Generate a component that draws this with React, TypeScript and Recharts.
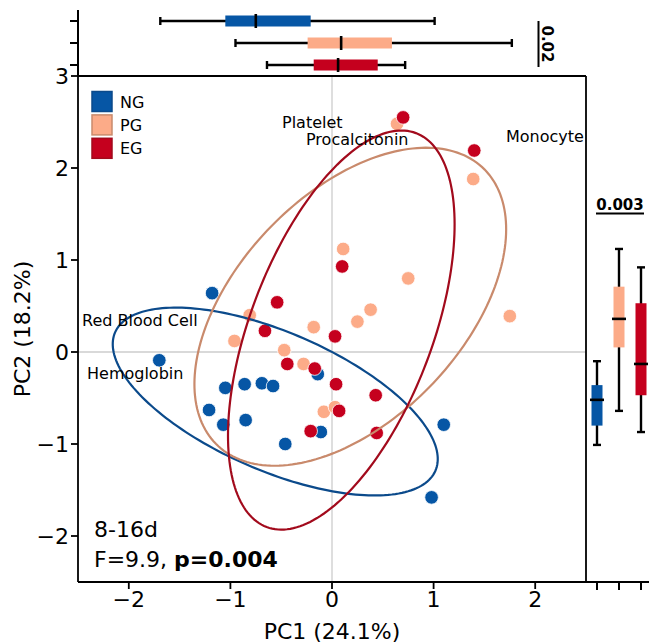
import React from "react";
import { ScatterChart, Scatter, XAxis, YAxis, ReferenceLine, BarChart, Bar } from "recharts";

const groups = ["NG", "PG", "EG"];

// PCA scores
const ngPC1 = [-1.18, -1.7, -1.05, -0.86, -0.69, -0.58, -1.21, -1.07, -0.85, -0.46, -0.14, -0.11, 1.1, 0.98];
const ngPC2 = [0.64, -0.09, -0.39, -0.35, -0.34, -0.37, -0.63, -0.79, -0.74, -1.0, -0.24, -0.87, -0.79, -1.58];
const pgPC1 = [-0.81, -0.96, -0.47, -0.18, -0.28, 0.25, 0.38, 0.75, -0.08, 0.03, 0.11, 0.64, 1.39, 1.75];
const pgPC2 = [0.4, 0.12, 0.02, 0.27, -0.13, 0.33, 0.46, 0.8, -0.65, -0.6, 1.12, 2.48, 1.88, 0.39];
const egPC1 = [0.1, -0.54, -0.66, 0.03, -0.44, -0.17, 0.04, 0.43, 0.07, -0.21, 0.44, 0.7, 1.4];
const egPC2 = [0.93, 0.54, 0.23, 0.17, -0.13, -0.18, -0.35, -0.47, -0.64, -0.86, -0.88, 2.55, 2.19];

// marginal boxes: whisker low, Q1, median, Q3, whisker high
const pc1Box = [
  [-1.69, -1.05, -0.75, -0.21, 1.01],
  [-0.95, -0.24, 0.09, 0.59, 1.77],
  [-0.64, -0.18, 0.06, 0.45, 0.72],
];
const pc2Box = [
  [-1.01, -0.8, -0.52, -0.36, -0.1],
  [-0.64, 0.05, 0.36, 0.71, 1.12],
  [-0.87, -0.47, -0.13, 0.53, 0.92],
];

const xTicks = [-2, -1, 0, 1, 2];
const yTicks = [-2, -1, 0, 1, 2, 3];

const pointColor: Record<string, string> = { NG: "#0656a5", PG: "#fcab88", EG: "#c5001e" };
const ellipseColor: Record<string, string> = { NG: "#0b4a8b", PG: "#c98a6c", EG: "#a20a1c" };

const FONT = "DejaVu Sans";

const toPoints = (xs: number[], ys: number[]) => xs.map((x, i) => ({ x, y: ys[i] }));

// 2-sd covariance ellipse of a group
function ellipse(xs: number[], ys: number[], nStd = 2, steps = 200) {
  const n = xs.length;
  const mx = xs.reduce((a, b) => a + b, 0) / n;
  const my = ys.reduce((a, b) => a + b, 0) / n;
  let cxx = 0, cyy = 0, cxy = 0;
  for (let i = 0; i < n; i++) {
    cxx += (xs[i] - mx) ** 2;
    cyy += (ys[i] - my) ** 2;
    cxy += (xs[i] - mx) * (ys[i] - my);
  }
  cxx /= n - 1; cyy /= n - 1; cxy /= n - 1;
  const r = cxy / Math.sqrt(cxx * cyy);
  const rx = Math.sqrt(1 + r), ry = Math.sqrt(1 - r);
  const sx = Math.sqrt(cxx) * nStd, sy = Math.sqrt(cyy) * nStd;
  const c = Math.SQRT1_2;
  const pts = [];
  for (let i = 0; i <= steps; i++) {
    const t = (2 * Math.PI * i) / steps;
    const u = rx * Math.cos(t), v = ry * Math.sin(t);
    pts.push({ x: mx + sx * c * (u - v), y: my + sy * c * (u + v) });
  }
  return pts;
}

const series = [
  { g: "NG", pts: toPoints(ngPC1, ngPC2), ell: ellipse(ngPC1, ngPC2) },
  { g: "PG", pts: toPoints(pgPC1, pgPC2), ell: ellipse(pgPC1, pgPC2) },
  { g: "EG", pts: toPoints(egPC1, egPC2), ell: ellipse(egPC1, egPC2) },
];

const pc1Rows = groups.map((g, i) => ({ group: g, range: [pc1Box[i][0], pc1Box[i][4]], stats: pc1Box[i] }));
const pc2Rows = groups.map((g, i) => ({ group: g, range: [pc2Box[i][0], pc2Box[i][4]], stats: pc2Box[i] }));

const fmt = (v: number) => (v < 0 ? "\u2212" + Math.abs(v) : String(v));

const dot = (color: string) => (p: any) => (
  <circle cx={p.cx} cy={p.cy} r={6.8} fill={color} stroke="#fff" strokeWidth={0.8} />
);

function HBox(p: any) {
  const s: number[] = p.payload.stats;
  const left = Math.min(p.x, p.x + p.width);
  const right = Math.max(p.x, p.x + p.width);
  const px = (v: number) => left + ((right - left) * (v - s[0])) / (s[4] - s[0]);
  const cy = p.y + p.height / 2;
  const col = pointColor[p.payload.group];
  return (
    <g>
      <line x1={px(s[0])} x2={px(s[4])} y1={cy} y2={cy} stroke="#000" strokeWidth={2.4} />
      <line x1={px(s[0])} x2={px(s[0])} y1={cy - 4} y2={cy + 4} stroke="#000" strokeWidth={2.4} />
      <line x1={px(s[4])} x2={px(s[4])} y1={cy - 4} y2={cy + 4} stroke="#000" strokeWidth={2.4} />
      <rect x={px(s[1])} y={cy - 5.5} width={px(s[3]) - px(s[1])} height={11} fill={col} />
      <line x1={px(s[2])} x2={px(s[2])} y1={cy - 7} y2={cy + 7} stroke="#000" strokeWidth={2.6} />
    </g>
  );
}

function VBox(p: any) {
  const s: number[] = p.payload.stats;
  const top = Math.min(p.y, p.y + p.height);
  const bottom = Math.max(p.y, p.y + p.height);
  const py = (v: number) => bottom - ((bottom - top) * (v - s[0])) / (s[4] - s[0]);
  const cx = p.x + p.width / 2;
  const col = pointColor[p.payload.group];
  return (
    <g>
      <line x1={cx} x2={cx} y1={py(s[0])} y2={py(s[4])} stroke="#000" strokeWidth={2.4} />
      <line x1={cx - 4} x2={cx + 4} y1={py(s[0])} y2={py(s[0])} stroke="#000" strokeWidth={2.4} />
      <line x1={cx - 4} x2={cx + 4} y1={py(s[4])} y2={py(s[4])} stroke="#000" strokeWidth={2.4} />
      <rect x={cx - 5.5} y={py(s[3])} width={11} height={py(s[1]) - py(s[3])} fill={col} />
      <line x1={cx - 7} x2={cx + 7} y1={py(s[2])} y2={py(s[2])} stroke="#000" strokeWidth={2.6} />
    </g>
  );
}

const axisStroke = { stroke: "#000", strokeWidth: 1.8 };
const tickStyle = { fill: "#000", fontSize: 22, fontFamily: FONT };

export default function App() {
  return (
    <div
      style={{
        position: "absolute",
        left: 0,
        top: 0,
        width: 649,
        height: 644,
        overflow: "hidden",
        background: "#fff",
        fontFamily: FONT,
      }}
    >
      <div style={{ position: "absolute", left: 0, top: 0 }}>
        <ScatterChart width={649} height={644} margin={{ top: 76, right: 63, bottom: 0, left: 0 }}>
          <XAxis
            type="number"
            dataKey="x"
            domain={[-2.5, 2.5]}
            ticks={xTicks}
            tickFormatter={fmt}
            allowDataOverflow
            height={62}
            tickSize={7}
            tickMargin={2}
            tick={tickStyle}
            axisLine={axisStroke}
            tickLine={axisStroke}
          />
          <YAxis
            type="number"
            dataKey="y"
            domain={[-2.5, 3]}
            ticks={yTicks}
            tickFormatter={fmt}
            allowDataOverflow
            width={78}
            tickSize={7}
            tickMargin={2}
            tick={tickStyle}
            axisLine={axisStroke}
            tickLine={axisStroke}
          />
          <ReferenceLine x={0} stroke="#cccccc" strokeWidth={1.3} />
          <ReferenceLine y={0} stroke="#cccccc" strokeWidth={1.3} />
          <ReferenceLine y={3} stroke="#000" strokeWidth={1.8} />
          <ReferenceLine x={2.5} stroke="#000" strokeWidth={1.8} />
          {series.map((s) => (
            <Scatter key={s.g} data={s.pts} shape={dot(pointColor[s.g])} isAnimationActive={false} />
          ))}
          {series.map((s) => (
            <Scatter
              key={s.g + "-ell"}
              data={s.ell}
              line={{ stroke: ellipseColor[s.g], strokeWidth: 2.2 }}
              shape={() => <g />}
              isAnimationActive={false}
            />
          ))}
        </ScatterChart>
      </div>

      <div style={{ position: "absolute", left: 0, top: 0 }}>
        <BarChart
          layout="vertical"
          width={649}
          height={76}
          data={pc1Rows}
          margin={{ top: 10, right: 63, left: 0, bottom: 0 }}
          barCategoryGap={0}
        >
          <XAxis type="number" domain={[-2.5, 2.5]} hide allowDataOverflow />
          <YAxis
            type="category"
            dataKey="group"
            width={78}
            interval={0}
            tickSize={8}
            tickFormatter={() => ""}
            axisLine={{ stroke: "#000", strokeWidth: 2 }}
            tickLine={{ stroke: "#000", strokeWidth: 2 }}
          />
          <Bar dataKey="range" shape={HBox} isAnimationActive={false} />
        </BarChart>
      </div>

      <div style={{ position: "absolute", left: 586, top: 0 }}>
        <BarChart
          width={66}
          height={644}
          data={pc2Rows}
          margin={{ top: 76, right: 0, left: 0, bottom: 0 }}
          barCategoryGap={0}
        >
          <XAxis
            type="category"
            dataKey="group"
            height={62}
            interval={0}
            tickSize={8}
            tickFormatter={() => ""}
            axisLine={{ stroke: "#000", strokeWidth: 2 }}
            tickLine={{ stroke: "#000", strokeWidth: 2 }}
          />
          <YAxis type="number" domain={[-2.5, 3]} hide allowDataOverflow />
          <Bar dataKey="range" shape={VBox} isAnimationActive={false} />
        </BarChart>
      </div>

      <svg
        width={649}
        height={644}
        style={{ position: "absolute", left: 0, top: 0, pointerEvents: "none" }}
        fontFamily={FONT}
      >
        {groups.map((g, i) => (
          <g key={g}>
            <rect
              x={92}
              y={91.5 + i * 23.4}
              width={20}
              height={20}
              fill={pointColor[g]}
              stroke={ellipseColor[g]}
              strokeWidth={1.5}
            />
            <text x={120} y={107.5 + i * 23.4} fontSize={16} fill="#000">
              {g}
            </text>
          </g>
        ))}

        <text x={282} y={128} fontSize={16} fill="#000">Platelet</text>
        <text x={306} y={144.5} fontSize={16} fill="#000">Procalcitonin</text>
        <text x={506} y={142} fontSize={16} fill="#000">Monocyte</text>
        <text x={82} y={325.5} fontSize={16} fill="#000">Red Blood Cell</text>
        <text x={87} y={379} fontSize={16} fill="#000">Hemoglobin</text>

        <text x={94} y={537} fontSize={22} fill="#000">8-16d</text>
        <text x={94} y={567} fontSize={22} fill="#000">
          F=9.9, <tspan fontWeight="bold">p=0.004</tspan>
        </text>

        <text x={332} y={639} fontSize={22} fill="#000" textAnchor="middle">PC1 (24.1%)</text>
        <text x={30} y={329} fontSize={22} fill="#000" textAnchor="middle" transform="rotate(-90 30 329)">
          PC2 (18.2%)
        </text>

        <text x={541.5} y={44} fontSize={15} fontWeight="bold" fill="#000" textAnchor="middle" transform="rotate(90 541.5 44)">
          0.02
        </text>
        <line x1={538.5} x2={538.5} y1={21} y2={67} stroke="#000" strokeWidth={2} />
        <text x={620} y={209.5} fontSize={15} fontWeight="bold" fill="#000" textAnchor="middle">0.003</text>
        <line x1={596} x2={644} y1={213.5} y2={213.5} stroke="#000" strokeWidth={2} />
      </svg>
    </div>
  );
}
